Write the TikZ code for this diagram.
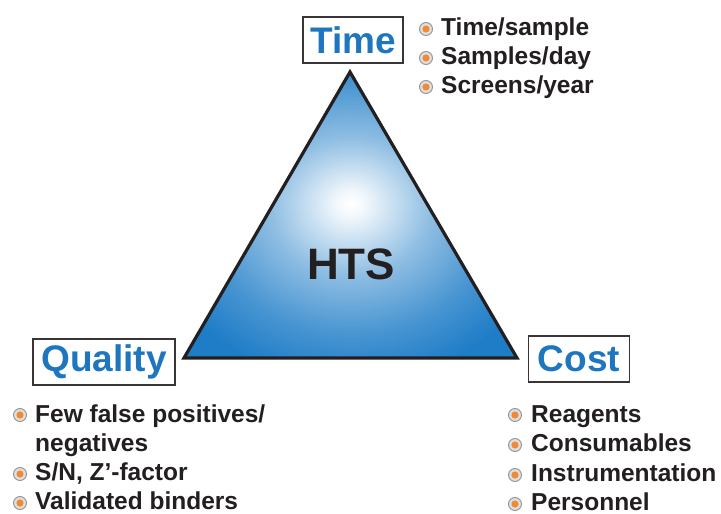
\documentclass[tikz,border=0pt]{standalone}
\usepackage{fontspec}
\setmainfont{Liberation Sans}
\usetikzlibrary{positioning}
\definecolor{htsblue}{HTML}{1F7DC7}
\definecolor{labelblue}{HTML}{1D76BE}
\definecolor{ink}{HTML}{231F20}
\definecolor{dotorange}{HTML}{F18A36}
% white glow in the middle of the triangle
\pgfdeclareradialshading{glow}{\pgfpoint{0bp}{2bp}}{color(0bp)=(white); color(2bp)=(white!95!htsblue); color(12bp)=(htsblue!50!white); color(22bp)=(htsblue!82!white); color(30bp)=(htsblue); color(50bp)=(htsblue)}

\begin{document}
\begin{tikzpicture}[x=1pt, y=-1pt,
  corner/.style={draw=ink!90, line width=1.6pt, fill=white, inner sep=0pt, minimum height=46pt, font=\fontsize{37}{40}\selectfont\bfseries, text=labelblue},
  item/.style={anchor=base west, inner sep=0pt, align=left, font=\fontsize{24.5}{28.5}\selectfont\bfseries, text=ink},
  dot/.style={circle, draw=gray!85, fill=gray!25, line width=0.9pt, minimum size=13pt, inner sep=0pt,
    path picture={\fill[dotorange] (path picture bounding box.center) circle (3.6pt);}},
]
\useasboundingbox[fill=white] (0,0) rectangle (721,514);

% the triangle
\coordinate (top) at (350,72);
\coordinate (right) at (517,358);
\coordinate (left) at (184,358);
\shade[shading=glow] (top) -- (right) -- (left) -- cycle;
\draw[ink, line width=3.2pt, line join=miter] (top) -- (right) -- (left) -- cycle;
\node[font=\fontsize{44}{48}\selectfont\bfseries, text=ink] (hts) at (351,264) {HTS};

% corner labels
\node[corner, minimum width=100pt] (time) at (353,40) {Time};
\node[corner, minimum width=142pt] (quality) at (104,362) {Quality};
\node[corner, minimum width=101pt] (cost) at (579,359) {Cost};

% time
\node[dot] (t1dot) at (426,29) {};
\node[item] (t1) at (441,35) {Time/sample};
\node[dot] (t2dot) at (426,58) {};
\node[item] (t2) at (441,64) {Samples/day};
\node[dot] (t3dot) at (426,87) {};
\node[item] (t3) at (441,93) {Screens/year};

% quality (base of a two-line node is its last line)
\node[dot] (q1dot) at (20,415) {};
\node[item] (q1) at (35,451) {Few false positives/\\negatives};
\node[dot] (q2dot) at (20,474) {};
\node[item] (q2) at (35,480) {S/N, Z’-factor};
\node[dot] (q3dot) at (20,503) {};
\node[item] (q3) at (35,509) {Validated binders};

% cost
\node[dot] (c1dot) at (515,415) {};
\node[item] (c1) at (531,422) {Reagents};
\node[dot] (c2dot) at (515,445) {};
\node[item] (c2) at (531,451) {Consumables};
\node[dot] (c3dot) at (515,475) {};
\node[item] (c3) at (531,481) {Instrumentation};
\node[dot] (c4dot) at (515,504) {};
\node[item] (c4) at (531,510) {Personnel};
\end{tikzpicture}
\end{document}
